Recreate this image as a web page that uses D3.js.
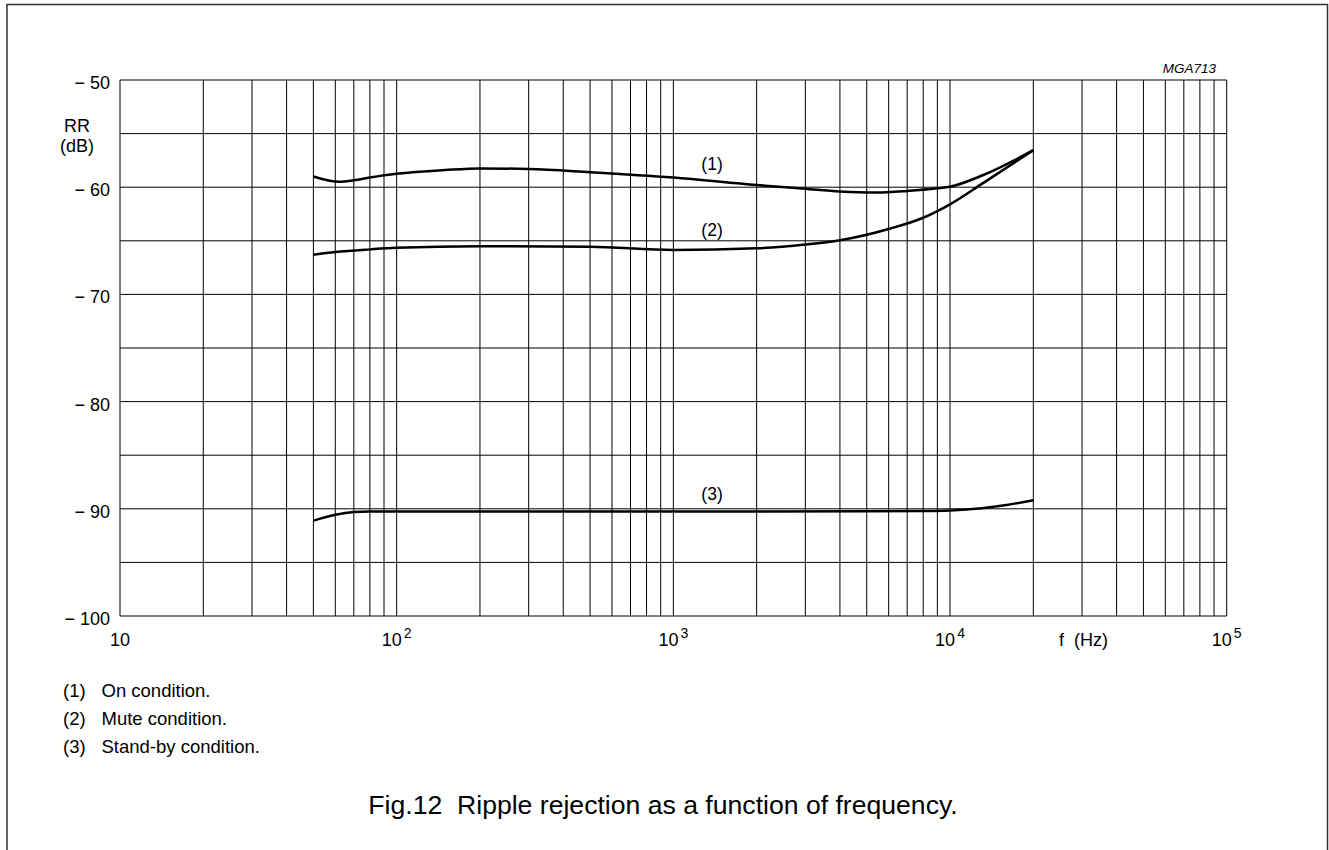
<!DOCTYPE html>
<html>
<head>
<meta charset="utf-8">
<script src="https://cdn.jsdelivr.net/npm/d3@7"></script>
<style>
  body { margin: 0; background: #fff; }
  svg { display: block; font-family: "Liberation Sans", Arial, sans-serif; }
</style>
</head>
<body>
<div id="chart"></div>
<script>
// curve data: [frequency (Hz), RR (dB)]
var onCondition = [
  [50, -59.0], [62, -59.5], [70, -59.35], [80, -59.1], [100, -58.75],
  [150, -58.4], [200, -58.25], [300, -58.3], [500, -58.6], [1000, -59.1],
  [2000, -59.8], [3000, -60.15], [4000, -60.4], [5400, -60.5], [7000, -60.35],
  [9000, -60.1], [10000, -59.95], [13200, -58.86], [20000, -56.55]
];
var muteCondition = [
  [50, -66.3], [60, -66.05], [80, -65.8], [100, -65.65], [200, -65.5],
  [500, -65.55], [1000, -65.85], [2000, -65.7], [3000, -65.35], [4000, -64.95],
  [6000, -63.9], [8000, -62.85], [10000, -61.6], [13200, -59.6], [20000, -56.55]
];
var standbyCondition = [
  [50, -91.1], [60, -90.55], [70, -90.3], [80, -90.25], [100, -90.25],
  [1000, -90.25], [5000, -90.22], [8000, -90.2], [10000, -90.15],
  [13000, -89.95], [16000, -89.65], [20000, -89.2]
];

var curveLabels = ["(1)", "(2)", "(3)"];
var labelPos = [[1380, -58.4], [1380, -64.55], [1380, -89.15]];
var legendText = ["On condition.", "Mute condition.", "Stand-by condition."];

var yTicks = [-50, -60, -70, -80, -90, -100];
var yGrid = d3.range(-100, -49, 5);
var xDecades = [10, 100, 1000, 10000, 100000];
var xExponents = ["", "2", "3", "4", "5"];

var svgWidth = 1329;
var svgHeight = 850;

var margin = { top: 80, left: 120 };
var width = 1226.7 - margin.left;
var height = 616 - margin.top;

var svg = d3.select('#chart')
  .append('svg')
  .attr('width', svgWidth)
  .attr('height', svgHeight);

// outer frame (open at the bottom)
svg.append('path')
  .attr('d', 'M7,850 V4.5 H1327.5 V850')
  .attr('fill', 'none')
  .attr('stroke', '#333')
  .attr('stroke-width', 1.5);

var chartGroup = svg.append('g')
  .attr('transform', `translate(${margin.left}, ${margin.top})`);

// scales
var xLogScale = d3.scaleLog()
  .domain([10, 100000])
  .range([0, width]);

var yLinearScale = d3.scaleLinear()
  .domain([-100, -50])
  .range([height, 0]);

// grid: every 1..9 per decade, every 5 dB
var xGrid = [];
xDecades.slice(0, 4).forEach(function(d) {
  for (var k = 1; k < 10; k++) xGrid.push(d * k);
});
xGrid.push(100000);

chartGroup.selectAll('.vgrid')
  .data(xGrid)
  .enter().append('line')
  .attr('x1', d => xLogScale(d))
  .attr('x2', d => xLogScale(d))
  .attr('y1', 0)
  .attr('y2', height)
  .attr('stroke', '#000')
  .attr('stroke-width', 1);

chartGroup.selectAll('.hgrid')
  .data(yGrid)
  .enter().append('line')
  .attr('x1', 0)
  .attr('x2', width)
  .attr('y1', d => yLinearScale(d))
  .attr('y2', d => yLinearScale(d))
  .attr('stroke', '#000')
  .attr('stroke-width', 1);

// y tick labels
chartGroup.selectAll('.ylab')
  .data(yTicks)
  .enter().append('text')
  .attr('x', -10)
  .attr('y', d => yLinearScale(d) + 9)
  .attr('text-anchor', 'end')
  .attr('font-size', 18)
  .text(d => '\u2212 ' + Math.abs(d));

// x tick labels with superscript exponents
var xLab = chartGroup.selectAll('.xlab')
  .data(xDecades)
  .enter().append('text')
  .attr('x', d => xLogScale(d))
  .attr('y', height + 30)
  .attr('text-anchor', 'middle')
  .attr('font-size', 18);

xLab.append('tspan').text('10');
xLab.append('tspan')
  .attr('dy', -8)
  .attr('dx', 2)
  .attr('font-size', 14)
  .text((d, i) => xExponents[i]);

// axis titles
svg.append('text')
  .attr('x', 77)
  .attr('y', 131.5)
  .attr('text-anchor', 'middle')
  .attr('font-size', 18)
  .text('RR');
svg.append('text')
  .attr('x', 77)
  .attr('y', 151.5)
  .attr('text-anchor', 'middle')
  .attr('font-size', 18)
  .text('(dB)');

svg.append('text')
  .attr('x', 1059)
  .attr('y', 646)
  .attr('font-size', 18)
  .attr('xml:space', 'preserve')
  .text('f  (Hz)');

svg.append('text')
  .attr('x', 1216)
  .attr('y', 73)
  .attr('text-anchor', 'end')
  .attr('font-size', 13.5)
  .attr('font-style', 'italic')
  .text('MGA713');

// curves
var line = d3.line()
  .x(d => xLogScale(d[0]))
  .y(d => yLinearScale(d[1]))
  .curve(d3.curveMonotoneX);

[onCondition, muteCondition, standbyCondition].forEach(function(series) {
  chartGroup.append('path')
    .datum(series)
    .attr('d', line)
    .attr('fill', 'none')
    .attr('stroke', '#000')
    .attr('stroke-width', 2.5);
});

chartGroup.selectAll('.clab')
  .data(curveLabels)
  .enter().append('text')
  .attr('x', (d, i) => xLogScale(labelPos[i][0]))
  .attr('y', (d, i) => yLinearScale(labelPos[i][1]))
  .attr('text-anchor', 'middle')
  .attr('font-size', 17.5)
  .text(d => d);

// notes under the chart
var notes = svg.selectAll('.note')
  .data(legendText)
  .enter().append('g')
  .attr('transform', (d, i) => `translate(63, ${696.5 + i * 28.4})`);

notes.append('text')
  .attr('font-size', 18.5)
  .text((d, i) => curveLabels[i]);

notes.append('text')
  .attr('x', 38.5)
  .attr('font-size', 18.5)
  .text(d => d);

// caption
svg.append('text')
  .attr('x', 663)
  .attr('y', 814)
  .attr('text-anchor', 'middle')
  .attr('font-size', 26.6)
  .attr('xml:space', 'preserve')
  .text('Fig.12  Ripple rejection as a function of frequency.');
</script>
</body>
</html>
